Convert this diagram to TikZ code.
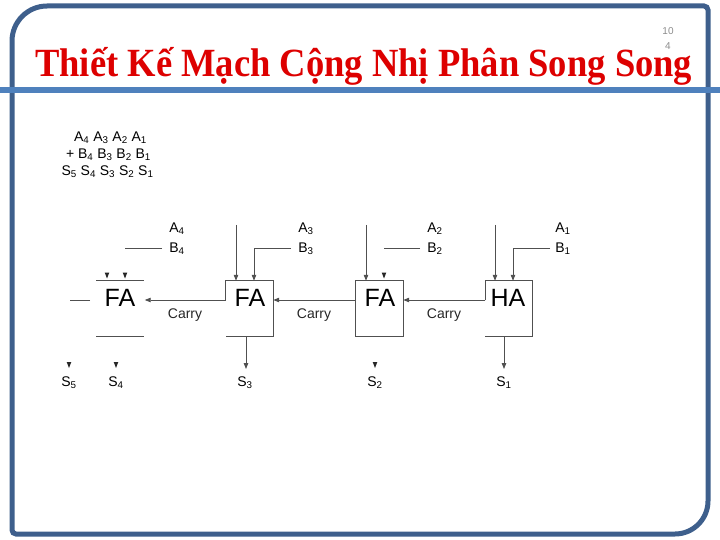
\documentclass[tikz,border=0pt]{standalone}
\usepackage{fontspec}
\setmainfont{Liberation Serif}
\setsansfont{Liberation Sans}
\usetikzlibrary{arrows.meta,calc}
\definecolor{frameblue}{HTML}{3E5F8C}
\definecolor{barblue}{HTML}{4F81BD}
\definecolor{titlered}{HTML}{DD0000}
\definecolor{wirec}{HTML}{505050}
\newcommand\subd[1]{\textsubscript{#1}}
\begin{document}
\begin{tikzpicture}[x=1pt,y=-1pt,
  wire/.style={draw=wirec,line width=0.8pt},
  arr/.style={wire,-{Triangle[length=6pt,width=4.5pt]}},
  tipdn/.style={fill=black!85},
  lbl/.style={font=\sffamily\fontsize{14}{14}\selectfont,inner sep=0pt,text=black},
  pgn/.style={font=\sffamily\fontsize{10}{10}\selectfont,text=black!45,inner sep=0pt},
  big/.style={font=\sffamily\fontsize{25}{25}\selectfont,inner sep=0pt,text=black},
  box/.style={minimum width=47pt,minimum height=55pt,inner sep=0pt,draw=none}]
\useasboundingbox (0,0) rectangle (720,540);
% frame
\draw[frameblue,line width=5pt]
  (12,41) .. controls (12,21.7) and (27.7,6) .. (47,6)
  -- (704,6) .. controls (706.2,6) and (708,7.8) .. (708,10)
  -- (708,501) .. controls (708,519.2) and (693.2,534) .. (675,534)
  -- (16,534) .. controls (13.8,534) and (12,532.2) .. (12,530) -- cycle;
\draw[barblue,line width=6pt] (0,90) -- (720,90);
% title
\node[anchor=base west,inner sep=0pt,text=titlered,font=\bfseries\fontsize{40}{40}\selectfont] (title) at (35,77)
  {\resizebox{657pt}{\height}{Thiết Kế Mạch Cộng Nhị Phân Song Song}};
\node[pgn] (pg1) at (668,31) {10};
\node[pgn] (pg2) at (668,46) {4};
% equations
\node[lbl] (eq1) at (110.5,138) {A\subd{4} A\subd{3} A\subd{2} A\subd{1}};
\node[lbl] (eq2) at (108.5,155) {+ B\subd{4} B\subd{3} B\subd{2} B\subd{1}};
\node[lbl] (eq3) at (107.5,172) {S\subd{5} S\subd{4} S\subd{3} S\subd{2} S\subd{1}};
% boxes
\node[box] (fa1) at (120,308.5) {};
\node[box] (fa2) at (249.5,308.5) {};
\node[box] (fa3) at (379.5,308.5) {};
\node[box] (ha) at (509,308.5) {};
\node[big] (t1) at (120,298) {FA};
\node[big] (t2) at (250,298) {FA};
\node[big] (t3) at (380,298) {FA};
\node[big] (t4) at (508,298) {HA};
% box edges
\draw[wire] (fa1.north west) -- (fa1.north east);
\draw[wire] (fa1.south west) -- (fa1.south east);
\draw[wire] ([yshift=8.5pt]fa2.west) -- (fa2.north west) -- (fa2.north east) -- (fa2.south east) -- (fa2.south west);
\draw[wire] (fa3.north west) rectangle (fa3.south east);
\draw[wire] ([yshift=8.5pt]ha.west) -- (ha.north west) -- (ha.north east) -- (ha.south east) -- (ha.south west);
% carries
\draw[arr] ([yshift=8.5pt]fa2.west) -- ([yshift=8.5pt,xshift=1pt]fa1.east);
\draw[arr] ([yshift=8.5pt]fa3.west) -- ([yshift=8.5pt]fa2.east);
\draw[arr] ([yshift=8.5pt]ha.west) -- ([yshift=8.5pt]fa3.east);
\coordinate (co1) at (90,300);
\coordinate (co2) at (70,300);
\draw[wire] (co1) -- (co2);
\node[lbl,text=black!85] (cl1) at (185,315) {Carry};
\node[lbl,text=black!85] (cl2) at (314,315) {Carry};
\node[lbl,text=black!85] (cl3) at (444,315) {Carry};
% input labels
\node[lbl] (a4) at (177,229) {A\subd{4}};
\node[lbl] (b4) at (177,249) {B\subd{4}};
\node[lbl] (a3) at (306,229) {A\subd{3}};
\node[lbl] (b3) at (306,249) {B\subd{3}};
\node[lbl] (a2) at (435,229) {A\subd{2}};
\node[lbl] (b2) at (435,249) {B\subd{2}};
\node[lbl] (a1) at (563,229) {A\subd{1}};
\node[lbl] (b1) at (563,249) {B\subd{1}};
% inputs
\coordinate (b4s) at (162,248);
\coordinate (b4e) at (125,248);
\draw[wire] (b4s) -- (b4e);
\fill[tipdn] (104.7,272.5) -- (109.3,272.5) -- (107,278.5) -- cycle;
\fill[tipdn] (122.7,272.5) -- (127.3,272.5) -- (125,278.5) -- cycle;
\coordinate (a3s) at (236,225);
\draw[arr] (a3s) -- (a3s |- fa2.north);
\coordinate (b3s) at (291,248);
\coordinate (b3c) at (254,248);
\draw[arr] (b3s) -- (b3c) -- (b3c |- fa2.north);
\coordinate (a2s) at (366,225);
\draw[arr] (a2s) -- (a2s |- fa3.north);
\coordinate (b2s) at (420,248);
\coordinate (b2e) at (384,248);
\draw[wire] (b2s) -- (b2e);
\fill[tipdn] (381.7,272.5) -- (386.3,272.5) -- (384,278.5) -- cycle;
\coordinate (a1s) at (495,225);
\draw[arr] (a1s) -- (a1s |- ha.north);
\coordinate (b1s) at (550,248);
\coordinate (b1c) at (513,248);
\draw[arr] (b1s) -- (b1c) -- (b1c |- ha.north);
% outputs
\node[lbl] (s5) at (69,383) {S\subd{5}};
\node[lbl] (s4) at (116,383) {S\subd{4}};
\node[lbl] (s3) at (245,383) {S\subd{3}};
\node[lbl] (s2) at (375,383) {S\subd{2}};
\node[lbl] (s1) at (504,383) {S\subd{1}};
\fill[tipdn] (66.7,362) -- (71.3,362) -- (69,368) -- cycle;
\fill[tipdn] (113.7,362) -- (118.3,362) -- (116,368) -- cycle;
\fill[tipdn] (372.7,362) -- (377.3,362) -- (375,368) -- cycle;
\coordinate (s3t) at (246,369);
\draw[arr] (s3t |- fa2.south) -- (s3t);
\coordinate (s1t) at (504,369);
\draw[arr] (s1t |- ha.south) -- (s1t);
\end{tikzpicture}
\end{document}
